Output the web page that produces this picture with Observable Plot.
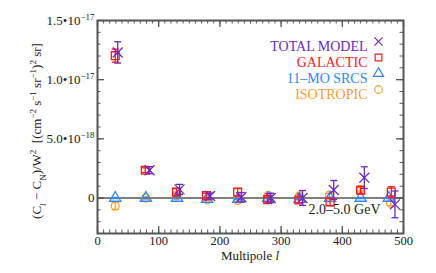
<!DOCTYPE html>
<html><head><meta charset="utf-8">
<script src="https://cdn.jsdelivr.net/npm/d3@7"></script>
<script src="https://cdn.jsdelivr.net/npm/@observablehq/plot@0.6"></script>
<style>
body{margin:0;background:#fff}
svg, svg text, svg tspan{font-family:"Liberation Serif","Times New Roman",serif !important}
</style>
</head><body><div id="chart"></div>
<script>
const E = 1e-18;
// GALACTIC
const galL = [29, 78, 129, 178, 229, 278, 329, 380, 430, 480];
const galY = [12.03, 2.35, 0.5, 0.2, 0.5, -0.14, -0.17, -0.34, 0.65, 0.5];
const galErr = [0.55, 0.2, 0.3, 0.2, 0.3, 0.2, 0.25, 0.3, 0.3, 0.45];
// TOTAL MODEL
const totL = [33, 85, 134, 184, 235, 283, 335, 386, 436, 486];
const totY = [12.3, 2.35, 0.73, 0.17, 0.06, 0.0, 0.0, 0.68, 1.72, -0.54];
const totErr = [0.9, 0.3, 0.42, 0.25, 0.4, 0.4, 0.63, 0.8, 0.92, 1.13];
// 11-MO SRCS
const srcL = [29, 79, 130, 179, 230, 279, 330, 380, 430, 476];
const srcY = [0.0, 0.0, 0.0, -0.1, -0.1, 0.0, -0.1, 0.0, 0.0, 0.0];
const srcErr = [0.05, 0.05, 0.05, 0.05, 0.05, 0.05, 0.05, 0.05, 0.05, 0.05];
// ISOTROPIC
const isoL = [29, 79, 129, 179, 229, 279, 330, 379, 429, 479];
const isoY = [-0.68, 0.0, 0.2, -0.15, -0.2, 0.22, 0.17, 0.25, 0.73, -0.45];
const isoErr = [0.3, 0.1, 0.15, 0.1, 0.1, 0.15, 0.15, 0.15, 0.15, 0.2];

const legendNames = ["TOTAL MODEL", "GALACTIC", "11\u2013MO SRCS", "ISOTROPIC"];
const xTicks = [0, 100, 200, 300, 400, 500];
const yTicks = [0, 5e-18, 1e-17, 1.5e-17];
const yTickLabels = ["0", "5.0\u202210|\u221218", "1.0\u202210|\u221217", "1.5\u202210|\u221217"];

const colors = {tot: "#6C2BBE", gal: "#FF1A1A", src: "#3386F5", iso: "#F9A030"};
const FONT = "'Liberation Serif', 'Times New Roman', serif";

function rows(L, Y, Er) {
  return L.map((l, i) => ({l, y: Y[i] * E, lo: (Y[i] - Er[i]) * E, hi: (Y[i] + Er[i]) * E}));
}
const series = [
  {key: "iso", data: rows(isoL, isoY, isoErr), symbol: "circle", r: 4},
  {key: "src", data: rows(srcL, srcY, srcErr), symbol: "triangle", r: 4.2},
  {key: "gal", data: rows(galL, galY, galErr), symbol: "square", r: 4.4},
  {key: "tot", data: rows(totL, totY, totErr), symbol: "times", r: 4.6}
];
const cap = {draw(ctx, size) { const w = Math.sqrt(size / Math.PI); ctx.moveTo(-w, 0); ctx.lineTo(w, 0); }};

const W = 436, H = 273, mL = 97, mR = 33, mT = 20, mB = 40;
const FW = W - mL - mR, FH = H - mT - mB;
const xMinor = d3.range(0, 501, 10);
const yMinor = d3.range(-3, 16).map(d => d * E);

const marks = [];
marks.push(Plot.ruleY([0], {stroke: "#555", strokeWidth: 1.5}));
for (const s of series) {
  const c = colors[s.key];
  marks.push(Plot.ruleX(s.data, {x: "l", y1: "lo", y2: "hi", stroke: c, strokeWidth: 1.3}));
  marks.push(Plot.dot(s.data, {x: "l", y: "lo", symbol: cap, r: 3.5, stroke: c, strokeWidth: 1.3}));
  marks.push(Plot.dot(s.data, {x: "l", y: "hi", symbol: cap, r: 3.5, stroke: c, strokeWidth: 1.3}));
  marks.push(Plot.dot(s.data, {x: "l", y: "y", symbol: s.symbol, r: s.r, stroke: c, fill: "none", strokeWidth: 1.3}));
}
// ticks inward on all four sides
const tk = "#555";
marks.push(Plot.tickX(xMinor, {x: d => d, insetTop: FH - 3.5, stroke: tk}));
marks.push(Plot.tickX(xMinor, {x: d => d, insetBottom: FH - 3.5, stroke: tk}));
marks.push(Plot.tickX(xTicks, {x: d => d, insetTop: FH - 7, stroke: tk, strokeWidth: 1.3}));
marks.push(Plot.tickX(xTicks, {x: d => d, insetBottom: FH - 7, stroke: tk, strokeWidth: 1.3}));
marks.push(Plot.tickY(yMinor, {y: d => d, insetRight: FW - 3.5, stroke: tk}));
marks.push(Plot.tickY(yMinor, {y: d => d, insetLeft: FW - 3.5, stroke: tk}));
marks.push(Plot.tickY(yTicks, {y: d => d, insetRight: FW - 7, stroke: tk, strokeWidth: 1.3}));
marks.push(Plot.tickY(yTicks, {y: d => d, insetLeft: FW - 7, stroke: tk, strokeWidth: 1.3}));
marks.push(Plot.frame({stroke: "#555", strokeWidth: 2}));
// axes labels
marks.push(Plot.axisX({ticks: xTicks, tickSize: 0, tickPadding: 3, fontSize: 12.5, label: null, tickFormat: d => String(d), fill: "#222", fontFamily: FONT}));
marks.push(Plot.axisY({ticks: yTicks, tickSize: 0, tickPadding: 3, fontSize: 13, label: null,
  tickFormat: d => yTickLabels[yTicks.indexOf(d)], fill: "#222", fontFamily: FONT}));
// legend
const legendKeys = ["tot", "gal", "src", "iso"];
const legendSyms = ["times", "square", "triangle", "circle"];
legendNames.forEach((name, i) => {
  const c = colors[legendKeys[i]];
  marks.push(Plot.text([name], {text: d => d, frameAnchor: "top-right", dx: -36, dy: 21 + 16 * i, textAnchor: "end", fontSize: 14, fill: c, fontFamily: FONT}));
  marks.push(Plot.dot([name], {frameAnchor: "top-right", dx: -25, dy: 21 + 16 * i, symbol: legendSyms[i], r: 3.8, stroke: c, fill: "none", strokeWidth: 1.2}));
});
marks.push(Plot.text(["2.0\u20135.0 GeV"], {text: d => d, frameAnchor: "bottom-right", dx: -23, dy: -20, textAnchor: "end", fontSize: 14, fill: "#222", fontFamily: FONT}));

const chart = Plot.plot({
  width: W, height: H, marginLeft: mL, marginRight: mR, marginTop: mT, marginBottom: mB,
  style: "font-family: 'Liberation Serif', 'Times New Roman', serif; background: #fff;",
  x: {domain: [0, 500], axis: null},
  y: {domain: [-3e-18, 1.5e-17], axis: null},
  marks
});
document.getElementById("chart").appendChild(chart);

const NS = "http://www.w3.org/2000/svg";
chart.querySelectorAll('g[aria-label="y-axis tick label"] text').forEach(t => {
  const s = t.textContent;
  if (s.includes("|")) {
    const [a, b] = s.split("|");
    t.textContent = a;
    const ts = document.createElementNS(NS, "tspan");
    ts.setAttribute("baseline-shift", "super");
    ts.setAttribute("font-size", "9");
    ts.textContent = b;
    t.appendChild(ts);
  }
});

const svg = d3.select(chart);
// y label
const yl = svg.append("text").attr("transform", "translate(41,131) rotate(-90)")
  .attr("text-anchor", "middle").attr("font-size", 13).attr("fill", "#222").attr("font-family", FONT);
const parts = [["(C", ""], ["l", "sub"], [" \u2212 C", ""], ["N", "sub"], [")/W", ""], ["2", "super"],
  ["  [(cm", ""], ["\u22122", "super"], [" s", ""], ["\u22121", "super"], [" sr", ""], ["\u22121", "super"],
  [")", ""], ["2", "super"], [" sr]", ""]];
parts.forEach(([t, shift]) => {
  const ts = yl.append("tspan").text(t);
  if (shift) ts.attr("baseline-shift", shift).attr("font-size", 9);
  if (t === "l") ts.attr("font-style", "italic");
});
// x label
const xl = svg.append("text").attr("x", mL + FW / 2).attr("y", 260).attr("text-anchor", "middle")
  .attr("font-size", 13).attr("fill", "#222").attr("font-family", FONT);
xl.append("tspan").text("Multipole ");
xl.append("tspan").attr("font-style", "italic").text("l");
</script></body></html>
